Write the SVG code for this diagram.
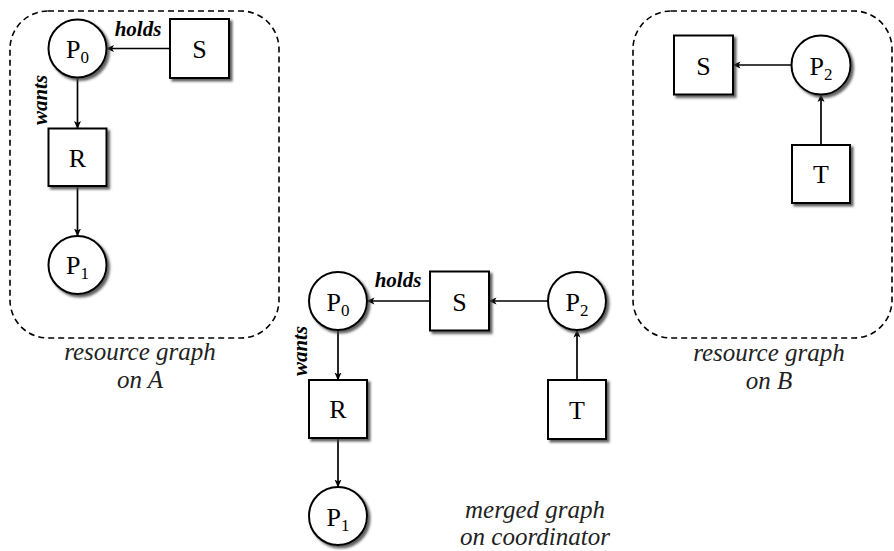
<svg xmlns="http://www.w3.org/2000/svg" width="894" height="551" viewBox="0 0 894 551">
  <style>
    .node { fill: #fff; stroke: #000; stroke-width: 2; filter: url(#shadow); }
    .region { fill: none; stroke: #000; stroke-width: 1.6; stroke-dasharray: 6 4; }
    .edge { fill: none; stroke: #000; stroke-width: 1.7; marker-end: url(#arrow); }
    text { font-family: "Liberation Serif", "Times New Roman", Times, "Noto Serif", "DejaVu Serif", serif; }
    .lbl { font-size: 26px; text-anchor: middle; fill: #000; }
    .sub { font-size: 17px; }
    .tag { font-size: 21px; font-weight: bold; font-style: italic; text-anchor: middle; fill: #000; }
    .cap { font-size: 25px; font-style: italic; text-anchor: middle; fill: #222; }
  </style>
  <defs>
    <filter id="shadow" x="-20%" y="-20%" width="150%" height="150%">
      <feDropShadow dx="2.5" dy="2.5" stdDeviation="0.9" flood-color="#444" flood-opacity="0.85"/>
    </filter>
    <marker id="arrow" viewBox="0 0 8 8" refX="7.5" refY="4" markerWidth="8" markerHeight="8" markerUnits="userSpaceOnUse" orient="auto">
      <path d="M0,0.5 L8,4 L0,7.5 L2,4 Z" fill="#000"/>
    </marker>
  </defs>

  <!-- site regions -->
  <g id="region-A">
    <rect class="region" x="10" y="11" width="269" height="327" rx="38" ry="38"/>
    <text class="cap" x="140" y="360">resource graph</text>
    <text class="cap" x="140" y="388">on A</text>
  </g>
  <g id="region-B">
    <rect class="region" x="633" y="11" width="259" height="327" rx="38" ry="38"/>
    <text class="cap" x="769" y="361">resource graph</text>
    <text class="cap" x="769" y="389">on B</text>
  </g>
  <g id="caption-merged">
    <text class="cap" x="535" y="518">merged graph</text>
    <text class="cap" x="535" y="545">on coordinator</text>
  </g>

  <!-- connectors -->
  <g id="connectors">
    <!-- site A -->
    <line class="edge" x1="170" y1="48.5" x2="106.5" y2="48.5"/>
    <line class="edge" x1="77.5" y1="77.5" x2="77.5" y2="128.5"/>
    <line class="edge" x1="77.5" y1="186" x2="77.5" y2="236"/>
    <text class="tag" x="138" y="36">holds</text>
    <text class="tag" transform="translate(46.5,100) rotate(-90)">wants</text>
    <!-- site B -->
    <line class="edge" x1="791.5" y1="65" x2="733" y2="65"/>
    <line class="edge" x1="821" y1="145" x2="821" y2="94.5"/>
    <!-- coordinator -->
    <line class="edge" x1="430" y1="301" x2="367" y2="301"/>
    <line class="edge" x1="548" y1="301" x2="489" y2="301"/>
    <line class="edge" x1="338" y1="330" x2="338" y2="380"/>
    <line class="edge" x1="338" y1="438" x2="338" y2="487"/>
    <line class="edge" x1="577" y1="380" x2="577" y2="330"/>
    <text class="tag" x="398" y="287">holds</text>
    <text class="tag" transform="translate(307,351) rotate(-90)">wants</text>
  </g>

  <!-- site A nodes -->
  <g id="A-P0">
    <circle class="node" cx="77.5" cy="48.5" r="29"/>
    <text class="lbl" x="77.5" y="58">P<tspan class="sub" dy="5">0</tspan></text>
  </g>
  <g id="A-S">
    <rect class="node" x="170" y="19" width="59" height="59"/>
    <text class="lbl" x="199.5" y="57.5">S</text>
  </g>
  <g id="A-R">
    <rect class="node" x="48.5" y="128.5" width="58" height="57.5"/>
    <text class="lbl" x="77.5" y="166.5">R</text>
  </g>
  <g id="A-P1">
    <circle class="node" cx="77.5" cy="265" r="29"/>
    <text class="lbl" x="77.5" y="274">P<tspan class="sub" dy="5">1</tspan></text>
  </g>

  <!-- site B nodes -->
  <g id="B-S">
    <rect class="node" x="674" y="35.5" width="59" height="59"/>
    <text class="lbl" x="703.5" y="74.5">S</text>
  </g>
  <g id="B-P2">
    <circle class="node" cx="821" cy="65" r="29.5"/>
    <text class="lbl" x="821" y="74.5">P<tspan class="sub" dy="5">2</tspan></text>
  </g>
  <g id="B-T">
    <rect class="node" x="792" y="145" width="58" height="58"/>
    <text class="lbl" x="821" y="183">T</text>
  </g>

  <!-- coordinator nodes -->
  <g id="C-P0">
    <circle class="node" cx="338" cy="301" r="29"/>
    <text class="lbl" x="338" y="310.5">P<tspan class="sub" dy="5">0</tspan></text>
  </g>
  <g id="C-S">
    <rect class="node" x="430" y="271.5" width="59" height="59"/>
    <text class="lbl" x="459.5" y="310.5">S</text>
  </g>
  <g id="C-P2">
    <circle class="node" cx="577" cy="301" r="29"/>
    <text class="lbl" x="577" y="310.5">P<tspan class="sub" dy="5">2</tspan></text>
  </g>
  <g id="C-R">
    <rect class="node" x="309" y="380" width="58" height="58"/>
    <text class="lbl" x="338" y="418">R</text>
  </g>
  <g id="C-T">
    <rect class="node" x="548" y="380" width="58" height="59"/>
    <text class="lbl" x="577" y="418.5">T</text>
  </g>
  <g id="C-P1">
    <circle class="node" cx="338" cy="516" r="29"/>
    <text class="lbl" x="338" y="525.5">P<tspan class="sub" dy="5">1</tspan></text>
  </g>
</svg>
